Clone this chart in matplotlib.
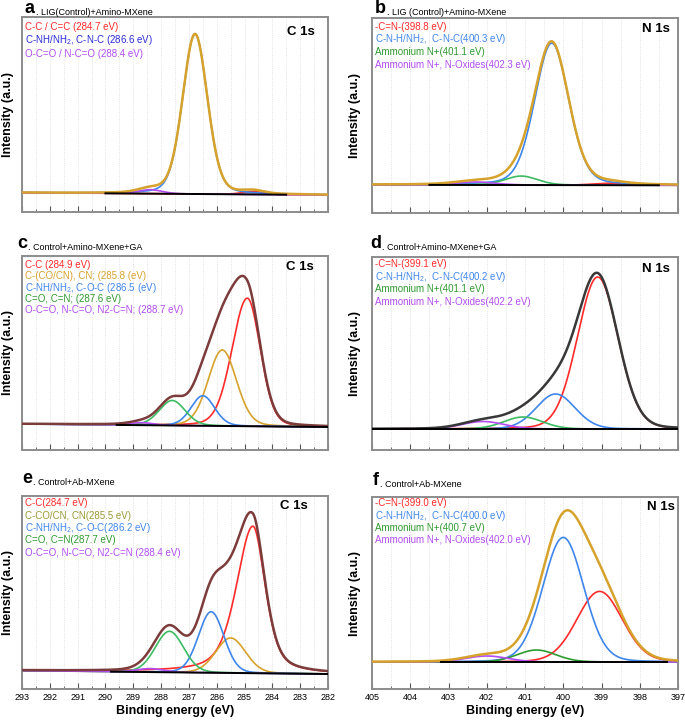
import numpy as np
import matplotlib.pyplot as plt
from matplotlib.ticker import MultipleLocator

plt.rcParams['font.family'] = ['Liberation Sans', 'DejaVu Sans']
plt.rcParams['mathtext.fontset'] = 'custom'
plt.rcParams['mathtext.rm'] = 'Liberation Sans'

RED = '#ff2a2a'
ORG = '#d6a22c'
BLU = '#3f86ea'
GRN = '#3dbb63'
DGR = '#2f9a2f'
PUR = '#b24cf2'
MAR = '#7d3c3c'

# ---- panel a : C 1s, LIG(Control)+Amino-MXene
a_cen = [284.7, 286.78, 288.4]
a_hgt = [3, 160, 4]
a_wlo = [0.9, 1.05, 1.0]
a_whi = [0.9, 1.05, 1.0]
a_eta = [0.2, 0.2, 0.2]
a_col = [RED, BLU, PUR]
a_lab = ['C-C / C=C (284.7 eV)', 'C-NH/NH$_2$, C-N-C (286.6 eV)', 'O-C=O / N-C=O (288.4 eV)']
a_labcol = [RED, '#2b2bd8', PUR]

# ---- panel b : N 1s, LIG (Control)+Amino-MXene
b_cen = [398.8, 400.3, 401.1, 402.3]
b_hgt = [2, 142, 9, 3]
b_wlo = [1.0, 1.05, 1.0, 1.2]
b_whi = [1.0, 1.05, 1.0, 1.2]
b_eta = [0.2, 0.2, 0.2, 0.2]
b_col = [RED, BLU, GRN, PUR]
b_lab = ['-C=N-(398.8 eV)', 'C-N-H/NH$_2$,  C-N-C(400.3 eV)', 'Ammonium N+(401.1 eV)',
         'Ammonium N+, N-Oxides(402.3 eV)']
b_labcol = [RED, BLU, DGR, PUR]

# ---- panel c : C 1s, Control+Amino-MXene+GA
c_cen = [284.9, 285.8, 286.5, 287.6, 288.7]
c_hgt = [128, 76, 30, 25, 2.5]
c_wlo = [1.1, 1.2, 1.0, 1.1, 1.0]
c_whi = [1.3, 1.2, 1.0, 1.1, 1.0]
c_eta = [0.15, 0.15, 0.15, 0.15, 0.15]
c_col = [RED, ORG, BLU, GRN, PUR]
c_lab = ['C-C (284.9 eV)', 'C-(CO/CN), CN; (285.8 (eV)', 'C-NH/NH$_2$, C-O-C (286.5 (eV)',
         'C=O, C=N; (287.6 eV)', 'O-C=O, N-C=O, N2-C=N; (288.7 eV)']
c_labcol = [RED, ORG, BLU, DGR, PUR]

# ---- panel d : N 1s, Control+Amino-MXene+GA
d_cen = [399.1, 400.2, 401.05, 402.1]
d_hgt = [152, 35, 12, 7.5]
d_wlo = [1.25, 1.2, 1.2, 1.3]
d_whi = [1.25, 1.2, 1.2, 1.3]
d_eta = [0.1, 0.1, 0.1, 0.1]
d_col = [RED, BLU, GRN, PUR]
d_lab = ['-C=N-(399.1 eV)', 'C-N-H/NH$_2$,  C-N-C(400.2 eV)', 'Ammonium N+(401.1 eV)',
         'Ammonium N+, N-Oxides(402.2 eV)']
d_labcol = [RED, BLU, DGR, PUR]

# ---- panel e : C 1s, Control+Ab-MXene
e_cen = [284.7, 285.5, 286.2, 287.7, 288.4]
e_hgt = [147, 35, 61, 41, 3.5]
e_wlo = [1.05, 1.26, 1.08, 1.2, 1.1]
e_whi = [1.4, 1.26, 1.08, 1.2, 1.1]
e_eta = [0.5, 0.1, 0.1, 0.1, 0.1]
e_col = [RED, ORG, BLU, GRN, PUR]
e_lab = ['C-C(284.7 eV)', 'C-CO/CN, CN(285.5 eV)', 'C-NH/NH$_2$, C-O-C(286.2 eV)',
         'C=O, C=N(287.7 eV)', 'O-C=O, N-C=O, N2-C=N (288.4 eV)']
e_labcol = [RED, '#9a9a34', BLU, DGR, PUR]

# ---- panel f : N 1s, Control+Ab-MXene
f_cen = [399.05, 400.0, 400.7, 402.0]
f_hgt = [70.6, 124.6, 12, 6]
f_wlo = [1.4, 1.26, 1.2, 1.3]
f_whi = [1.4, 1.26, 1.2, 1.3]
f_eta = [0.1, 0.1, 0.1, 0.1]
f_col = [RED, BLU, DGR, PUR]
f_lab = ['-C=N-(399.0 eV)', 'C-N-H/NH$_2$,  C-N-C(400.0 eV)', 'Ammonium N+(400.7 eV)',
         'Ammonium N+, N-Oxides(402.0 eV)']
f_labcol = [RED, BLU, DGR, PUR]


def pv(x, c, h, wlo, whi, eta):
    # pseudo-Voigt, separate widths on the low / high binding-energy side
    w = np.where(x > c, whi, wlo)
    u = (x - c) / w
    return h * ((1 - eta) * np.exp(-4 * np.log(2) * u**2) + eta / (1 + 4 * u**2))


fig = plt.figure(figsize=(6.85, 7.21), dpi=100)

panels = [
    dict(L='a', t='. LIG(Control)+Amino-MXene', core='C 1s', xr=(293, 282),
         p=(a_cen, a_hgt, a_wlo, a_whi, a_eta, a_col), lab=a_lab, lc=a_labcol,
         bg=(2.3, 0), fit=(290, 283.5), yl=(-17, 178), env=ORG, sp=13.7, top=9.7,
         pos=(22, 17, 306, 195), core_xy=(0.957, 15), let_xy=(25, 13)),
    dict(L='b', t='. LIG (Control)+Amino-MXene', core='N 1s', xr=(405, 397),
         p=(b_cen, b_hgt, b_wlo, b_whi, b_eta, b_col), lab=b_lab, lc=b_labcol,
         bg=(0.5, 0), fit=(403.5, 397.5), yl=(-27.7, 167.3), env=ORG, sp=12.8, top=8.7,
         pos=(372, 18, 306, 195), core_xy=(0.972, 11), let_xy=(375, 13)),
    dict(L='c', t='. Control+Amino-MXene+GA', core='C 1s', xr=(293, 282),
         p=(c_cen, c_hgt, c_wlo, c_whi, c_eta, c_col), lab=c_lab, lc=c_labcol,
         bg=(3, 0), fit=(289.6, 282), yl=(-23, 171), env=MAR, sp=11.3, top=9,
         pos=(22, 256, 306, 194), core_xy=(0.952, 11), let_xy=(17, 248)),
    dict(L='d', t='. Control+Amino-MXene+GA', core='N 1s', xr=(405, 397),
         p=(d_cen, d_hgt, d_wlo, d_whi, d_eta, d_col), lab=d_lab, lc=d_labcol,
         bg=(0, 0), fit=(405, 397), yl=(-21, 172), env='#383838', sp=12.5, top=7.5,
         pos=(372, 257, 306, 193), core_xy=(0.974, 12), let_xy=(370, 248)),
    dict(L='e', t='. Control+Ab-MXene', core='C 1s', xr=(293, 282),
         p=(e_cen, e_hgt, e_wlo, e_whi, e_eta, e_col), lab=e_lab, lc=e_labcol,
         bg=(3.3, 0), fit=(289.8, 282), yl=(-15, 178), env=MAR, sp=12.3, top=7.5,
         pos=(22, 496, 306, 193), core_xy=(0.935, 10), let_xy=(22, 483)),
    dict(L='f', t='. Control+Ab-MXene', core='N 1s', xr=(405, 397),
         p=(f_cen, f_hgt, f_wlo, f_whi, f_eta, f_col), lab=f_lab, lc=f_labcol,
         bg=(0, 0), fit=(403.2, 397.3), yl=(-27, 165), env=ORG, sp=12.3, top=6.5,
         pos=(372, 497, 306, 192), core_xy=(0.99, 10), let_xy=(373, 485)),
]

W, H = 685, 721
for i, P in enumerate(panels):
    x0, y0, w, h = P['pos']
    ax = fig.add_axes([x0 / W, 1 - (y0 + h) / H, w / W, h / H])
    x = np.linspace(P['xr'][0], P['xr'][1], 1200)
    bg = P['bg'][1] + (P['bg'][0] - P['bg'][1]) * (x - P['xr'][1]) / (P['xr'][0] - P['xr'][1])
    cen, hgt, wlo, whi, eta, col = P['p']
    total = bg.copy()
    for c, hh, wl, wh, et, cc in zip(cen, hgt, wlo, whi, eta, col):
        comp = pv(x, c, hh, wl, wh, et)
        total += comp
        ax.plot(x, bg + comp, color=cc, lw=1.2, zorder=2)
    ax.plot(x, total, color=P['env'], lw=1.8, zorder=3)
    m = (x <= P['fit'][0]) & (x >= P['fit'][1])
    ax.plot(x[m], bg[m], color='black', lw=1.4, zorder=4)

    ax.set_xlim(*P['xr'])
    ax.set_ylim(*P['yl'])
    ax.xaxis.set_major_locator(MultipleLocator(1))
    ax.xaxis.set_minor_locator(MultipleLocator(0.5))
    ax.set_yticks([])
    ax.grid(axis='x', which='both', color='#d8d8d8', ls=':', lw=0.6)
    ax.tick_params(axis='x', which='major', direction='in', length=4, width=0.8,
                   color='#555555', labelsize=6.5, pad=3)
    ax.tick_params(axis='x', which='minor', direction='in', length=2.5, width=0.6,
                   color='#555555')
    for s in ax.spines.values():
        s.set_color('#8c8c8c')
        s.set_linewidth(1.4)
    if i < 4:
        ax.tick_params(axis='x', which='both', labelbottom=False)
    else:
        ax.set_xlabel('Binding energy (eV)', fontsize=9, fontweight='bold')
        ax.xaxis.set_label_coords(0.5, -0.085)
    ax.set_ylabel('Intensity (a.u.)', fontsize=9, fontweight='bold')
    ax.yaxis.set_label_coords(-0.025 if i % 2 == 0 else -0.035, 0.5)

    for k, (t, cc) in enumerate(zip(P['lab'], P['lc'])):
        ax.text(0.01, 1 - (P['top'] + k * P['sp']) / h, t, color=cc, fontsize=7.0,
                transform=ax.transAxes, va='center', ha='left')
    ax.text(P['core_xy'][0], 1 - P['core_xy'][1] / h, P['core'], fontsize=9.5,
            fontweight='bold', transform=ax.transAxes, va='center', ha='right')

    lx, ly = P['let_xy']
    lt = fig.text(lx / W, 1 - ly / H, P['L'], fontsize=13, fontweight='bold',
                  va='baseline', ha='left')
    ax.annotate(P['t'], xy=(1, 0), xycoords=lt, xytext=(0.5, 0),
                textcoords='offset points', fontsize=6.5, va='bottom', ha='left')

fig.savefig('out.png', dpi=100)
